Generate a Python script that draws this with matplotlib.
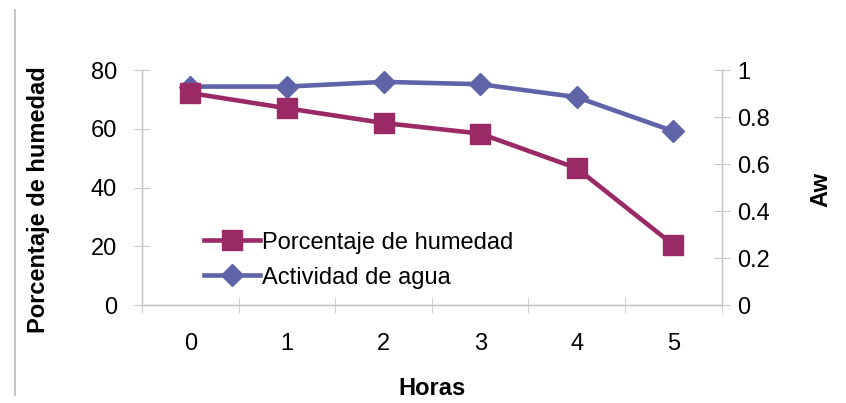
import numpy as np
import matplotlib.pyplot as plt
import matplotlib.lines as mlines

plt.rcParams['font.family'] = ['Liberation Sans', 'DejaVu Sans']

# moisture loss and water activity over drying time
horas = [0, 1, 2, 3, 4, 5]
humedad = [72.2, 67.0, 62.0, 58.4, 46.6, 20.5]
aw = [0.93, 0.93, 0.95, 0.94, 0.885, 0.74]

color_hum = '#9A2A66'
color_aw = '#5F63A8'
grid_grey = '#C8C8C8'
fs = 17

fig = plt.figure(figsize=(8.46, 4.03), dpi=100)
ax = fig.add_axes([0.168, 0.243, 0.685, 0.583])
ax2 = ax.twinx()

l1, = ax.plot(horas, humedad, color=color_hum, lw=3.3, marker='s', ms=15,
              label='Porcentaje de humedad')
l2, = ax2.plot(horas, aw, color=color_aw, lw=3.3, marker='D', ms=11,
               label='Actividad de agua')
ax2.set_zorder(ax.get_zorder() - 1)
ax.patch.set_visible(False)

ax.set_xlim(-0.5, 5.5)
ax.set_ylim(0, 80)
ax2.set_ylim(0, 1)
ax.set_yticks([0, 20, 40, 60, 80])
ax2.set_yticks([0, 0.2, 0.4, 0.6, 0.8, 1])
ax2.set_yticklabels(['0', '0.2', '0.4', '0.6', '0.8', '1'])
ax.set_xticks(horas)
ax.set_xticks(np.arange(-0.5, 6, 1), minor=True)
ax.tick_params(axis='x', which='major', length=0, pad=20, labelsize=fs)
ax.tick_params(axis='x', which='minor', direction='inout', length=12,
               color=grid_grey)
ax.tick_params(axis='y', direction='inout', length=12, color=grid_grey,
               labelsize=fs, pad=12)
ax2.tick_params(axis='y', direction='inout', length=12, color=grid_grey,
                labelsize=fs, pad=5)

for a in (ax, ax2):
    a.spines['top'].set_visible(False)
    for s in ('left', 'right', 'bottom'):
        a.spines[s].set_color(grid_grey)
        a.spines[s].set_linewidth(1)

ax.set_ylabel('Porcentaje de humedad', fontsize=fs, fontweight='bold')
ax.yaxis.set_label_coords(-0.159, 0.45)
ax2.set_ylabel('Aw', fontsize=fs, fontweight='bold')
ax2.yaxis.set_label_coords(1.152, 0.49)
ax.set_xlabel('Horas', fontsize=fs, fontweight='bold', labelpad=16)

ax.legend(handles=[l1, l2], loc='lower left', bbox_to_anchor=(0.09, 0.03),
          frameon=False, fontsize=fs, handlelength=2.4, handletextpad=0.05,
          labelspacing=0.55, borderaxespad=0)

# thin border line at the left edge
fig.add_artist(mlines.Line2D([0.018, 0.018], [0.02, 0.975],
                             color='#BBBBBB', lw=1.2))

fig.savefig('out.png', dpi=100)
